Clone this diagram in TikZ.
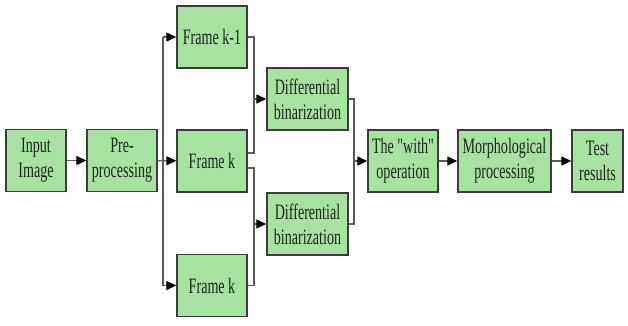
\documentclass[tikz,border=0pt]{standalone}
\usepackage{fontspec}
\setmainfont{Liberation Serif}[FakeStretch=0.64,Ligatures=TeXOff]
\usetikzlibrary{arrows.meta,calc}
\definecolor{boxfill}{HTML}{A8E2A0}
\definecolor{boxline}{HTML}{3C3C3C}
\definecolor{wire}{HTML}{5A5A5A}
\definecolor{txt}{HTML}{1A261A}
\begin{document}
\begin{tikzpicture}[x=1pt,y=-1pt,
  blk/.style={draw=boxline,line width=1.4pt,fill=boxfill,inner sep=0pt,
    minimum height=62pt,text=txt,align=center,
    font=\fontsize{22pt}{25pt}\selectfont},
  wireline/.style={draw=wire,line width=1.3pt},
  arr/.style={wireline,-{Triangle[length=10pt,width=9pt,fill=black,color=black]}}]
\useasboundingbox (0,0) rectangle (628,325);
\node[blk,minimum width=60pt] (in) at (36,160.5) {Input\\Image};
\node[blk,minimum width=70pt] (pre) at (122,160.5) {Pre-\\processing};
\node[blk,minimum width=70pt] (fk1) at (212,37) {Frame k-1};
\node[blk,minimum width=70pt] (fk) at (212,161) {Frame k};
\node[blk,minimum width=70pt] (fkb) at (212,285.5) {Frame k};
\node[blk,minimum width=81pt] (d1) at (307.5,99) {Differential\\binarization};
\node[blk,minimum width=81pt] (d2) at (307.5,224) {Differential\\binarization};
\node[blk,minimum width=70pt] (with) at (403,161) {The "with"\\operation};
\node[blk,minimum width=93pt] (morph) at (504.5,161) {Morphological\\processing};
\node[blk,minimum width=51pt] (test) at (597.5,161) {Test\\results};
% split after pre-processing
\coordinate (s1) at (163,0);
\coordinate (s2) at (254,0);
\coordinate (s3) at (354,0);
\draw[arr] (in) -- (pre);
\draw[arr] (pre) -- (fk);
\draw[wireline] (s1 |- fk1.west) -- (s1 |- fkb.west);
\draw[arr] (s1 |- fk1.west) -- (fk1.west);
\draw[arr] (s1 |- fkb.west) -- (fkb.west);
% into differential binarization
\coordinate (fku) at ($(fk.east)+(0,-8)$);
\coordinate (fkd) at ($(fk.east)+(0,7)$);
\draw[wireline] (fk1.east) -- (s2 |- fk1.east) -- (s2 |- fku) -- (fku);
\draw[wireline] (fkd) -- (s2 |- fkd) -- (s2 |- fkb.east) -- (fkb.east);
\draw[arr] (s2 |- d1.west) -- (d1.west);
\draw[arr] (s2 |- d2.west) -- (d2.west);
% merge
\draw[wireline] (d1.east) -- (s3 |- d1.east) -- (s3 |- d2.east) -- (d2.east);
\draw[arr] (s3 |- with.west) -- (with.west);
\draw[arr] (with) -- (morph);
\draw[arr] (morph) -- (test);
\end{tikzpicture}
\end{document}
